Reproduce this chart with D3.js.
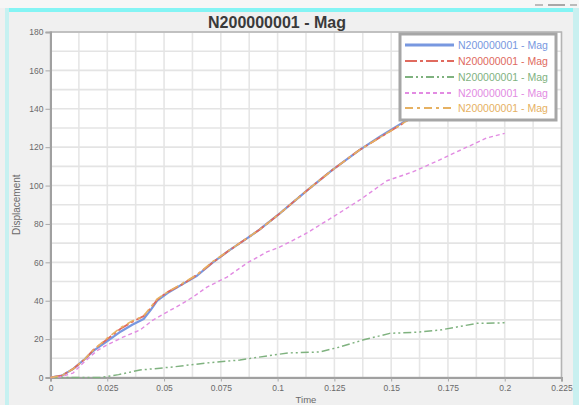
<!DOCTYPE html>
<html><head><meta charset="utf-8">
<script src="https://cdn.jsdelivr.net/npm/d3@7"></script>
<style>html,body{margin:0;padding:0;background:#f0f0f0;}svg{display:block;font-family:"Liberation Sans",Arial,sans-serif;}</style>
</head><body>
<svg id="c" width="579" height="405"></svg>
<script>
const title = "N200000001 - Mag";
const xLabel = "Time";
const yLabel = "Displacement";
const xTicks = [0, 0.025, 0.05, 0.075, 0.1, 0.125, 0.15, 0.175, 0.2, 0.225];
const xTickLabels = ["0", "0.025", "0.05", "0.075", "0.1", "0.125", "0.15", "0.175", "0.2", "0.225"];
const yTicks = [0, 20, 40, 60, 80, 100, 120, 140, 160, 180];
const seriesNames = ["N200000001 - Mag", "N200000001 - Mag", "N200000001 - Mag", "N200000001 - Mag", "N200000001 - Mag"];

const blueT = [0, 0.005, 0.010, 0.015, 0.019, 0.025, 0.031, 0.036, 0.041, 0.044, 0.047, 0.0515, 0.058, 0.0645, 0.0715, 0.079, 0.0865, 0.092, 0.101, 0.113, 0.124, 0.136, 0.145, 0.154, 0.165, 0.18, 0.2];
const blueV = [0, 1, 4.5, 9.5, 14, 19, 24, 27.5, 30.5, 35, 40, 44, 48.5, 53, 60, 66.5, 72.5, 77, 85.5, 97.5, 108, 118.5, 125.5, 132, 140, 151, 165];
const redT  = [0, 0.005, 0.010, 0.015, 0.019, 0.025, 0.031, 0.036, 0.041, 0.044, 0.047, 0.0515, 0.058, 0.0645, 0.0715, 0.079, 0.0865, 0.092, 0.101, 0.113, 0.124, 0.136, 0.145, 0.154, 0.165, 0.18, 0.2];
const redV  = [0, 1, 4.5, 9.5, 14.5, 20, 25.5, 29, 32, 36, 40.5, 44.5, 48.5, 53.5, 60, 66.5, 72.5, 77, 85.5, 97.5, 108, 118.5, 125, 131.5, 140, 151, 165];
const greenT = [0, 0.022, 0.03, 0.0394, 0.0539, 0.0689, 0.0834, 0.0979, 0.105, 0.1186, 0.1274, 0.1375, 0.1494, 0.1626, 0.1714, 0.1789, 0.1877, 0.2];
const greenV = [0, 0, 1.5, 3.9, 5.5, 7.6, 9.1, 11.7, 12.8, 13.3, 15.9, 19.5, 23, 23.7, 24.7, 26.3, 28.2, 28.5];
const magT = [0, 0.0042, 0.0099, 0.0143, 0.0205, 0.0249, 0.0319, 0.0394, 0.0451, 0.0513, 0.057, 0.0627, 0.0689, 0.0777, 0.0865, 0.0953, 0.101, 0.1054, 0.1129, 0.1243, 0.1362, 0.1481, 0.1595, 0.1714, 0.1833, 0.1921, 0.2];
const magV = [0, 0.3, 2.3, 7.5, 14, 17, 21, 24.7, 29.9, 34.1, 37.8, 41.9, 47.1, 52.3, 59.6, 65.4, 68, 70.6, 75.3, 83.6, 92.5, 102.5, 107.1, 113.4, 120, 124.8, 127.2];
const orangeT = redT;
const orangeV = [0, 1, 4.5, 9.5, 14.5, 20.5, 26, 29.5, 32, 36.5, 41, 44.5, 49, 53.5, 60.5, 66.5, 72.5, 77, 85.5, 97.5, 108, 118.5, 125, 131.5, 140, 151, 165];

const colors = ["#7898e0", "#e06a5e", "#7fb27f", "#e28be2", "#e6b162"];
const dashes = [null, "12,3,3,3", "8,3,2,3,2,3", "4,3", "8,4,3,4"];
const widths = [2.2, 1.8, 1.5, 1.4, 1.6];

const series = [
  {t: blueT, v: blueV}, {t: redT, v: redV}, {t: greenT, v: greenV}, {t: magT, v: magV}, {t: orangeT, v: orangeV}
].map((s, i) => ({name: seriesNames[i], pts: s.t.map((t, j) => [t, s.v[j]]), color: colors[i], dash: dashes[i], w: widths[i]}));

const svg = d3.select("#c");
// window frame
svg.append("rect").attr("x",0).attr("y",0).attr("width",579).attr("height",405).attr("fill","#f0f0f0");
svg.append("rect").attr("x",0).attr("y",0).attr("width",579).attr("height",8).attr("fill","#f6f6f6");
svg.append("rect").attr("x",5).attr("y",8).attr("width",574).attr("height",4).attr("fill","#84f4f4");
svg.append("rect").attr("x",5).attr("y",8).attr("width",4).attr("height",397).attr("fill","#c6f1f1");
svg.append("rect").attr("x",573).attr("y",8).attr("width",6).attr("height",397).attr("fill","#c9f0f0");
[[535,8,"#bbbbbb"],[548,17,"#a8a8a8"],[570,7,"#bbbbbb"]].forEach(d=>{
  svg.append("rect").attr("x",d[0]).attr("y",4).attr("width",d[1]).attr("height",2).attr("fill",d[2]);
});

const L = 50.5, R = 561.5, T = 32, B = 377.5;
const x = d3.scaleLinear().domain([0, 0.225]).range([L, R]);
const y = d3.scaleLinear().domain([0, 180]).range([B, T]);

svg.append("rect").attr("x",L).attr("y",T).attr("width",R-L).attr("height",B-T).attr("fill","#ffffff");

// grid (major + minor)
const gx = d3.range(0, 0.2251, 0.0125);
const gy = d3.range(0, 181, 10);
svg.append("g").selectAll("line").data(gx.slice(1)).join("line")
  .attr("x1", d => x(d)).attr("x2", d => x(d)).attr("y1", T).attr("y2", B)
  .attr("stroke", "#e6e6e6").attr("stroke-width", 1.6);
svg.append("g").selectAll("line").data(gy.slice(1)).join("line")
  .attr("x1", L).attr("x2", R).attr("y1", d => y(d)).attr("y2", d => y(d))
  .attr("stroke", "#e4e4e4").attr("stroke-width", 1.6);

// plot border
svg.append("rect").attr("x",L).attr("y",T).attr("width",R-L).attr("height",B-T)
  .attr("fill","none").attr("stroke","#b4b4b4").attr("stroke-width",1.5);

// axes
const xAxis = d3.axisBottom(x).tickValues(xTicks).tickFormat((d,i) => xTickLabels[i]).tickSize(4).tickPadding(3);
const yAxis = d3.axisLeft(y).tickValues(yTicks).tickSize(5).tickPadding(2);
const gxA = svg.append("g").attr("transform", `translate(0,${B})`).call(xAxis);
const gyA = svg.append("g").attr("transform", `translate(${L},0)`).call(yAxis);
[gxA, gyA].forEach(g => {
  g.select(".domain").attr("stroke", "#a0a0a0").attr("stroke-width", 2);
  g.selectAll(".tick line").attr("stroke", "#a8a8a8");
  g.selectAll(".tick text").attr("fill", "#6a6a6a").attr("font-size", 8.5).attr("font-family", "'Liberation Sans',Arial,sans-serif");
});

// series
const line = d3.line().x(d => x(d[0])).y(d => y(d[1]));
svg.append("g").selectAll("path").data(series).join("path")
  .attr("d", d => line(d.pts)).attr("fill", "none")
  .attr("stroke", d => d.color).attr("stroke-width", d => d.w)
  .attr("stroke-dasharray", d => d.dash)
  .attr("stroke-linejoin", "round");

// title & labels
svg.append("text").attr("x", 277).attr("y", 28).attr("text-anchor", "middle")
  .attr("font-size", 16).attr("font-weight", "bold").attr("fill", "#3a3a3a").text(title);
svg.append("text").attr("x", (L+R)/2).attr("y", 403).attr("text-anchor", "middle")
  .attr("font-size", 9.5).attr("fill", "#6a6a6a").text(xLabel);
svg.append("text").attr("transform", `translate(20,${(T+B)/2}) rotate(-90)`).attr("text-anchor", "middle")
  .attr("font-size", 10).attr("fill", "#6a6a6a").text(yLabel);

// legend
const lg = svg.append("g");
lg.append("rect").attr("x", 400).attr("y", 34).attr("width", 156).attr("height", 86)
  .attr("fill", "#ffffff").attr("stroke", "#a6a6a6").attr("stroke-width", 3);
const rowY = [45, 61, 77, 93, 108];
const items = lg.selectAll("g.item").data(series).join("g").attr("class", "item")
  .attr("transform", (d, i) => `translate(0,${rowY[i]})`);
items.append("line").attr("x1", 405).attr("x2", 454).attr("y1", 0).attr("y2", 0)
  .attr("stroke", d => d.color).attr("stroke-width", (d,i) => i === 0 ? 3 : 2.2)
  .attr("stroke-dasharray", d => d.dash);
items.append("text").attr("x", 458).attr("y", 3.8).attr("font-size", 10.5)
  .attr("fill", d => d.color).text(d => d.name);
</script>
</body></html>
